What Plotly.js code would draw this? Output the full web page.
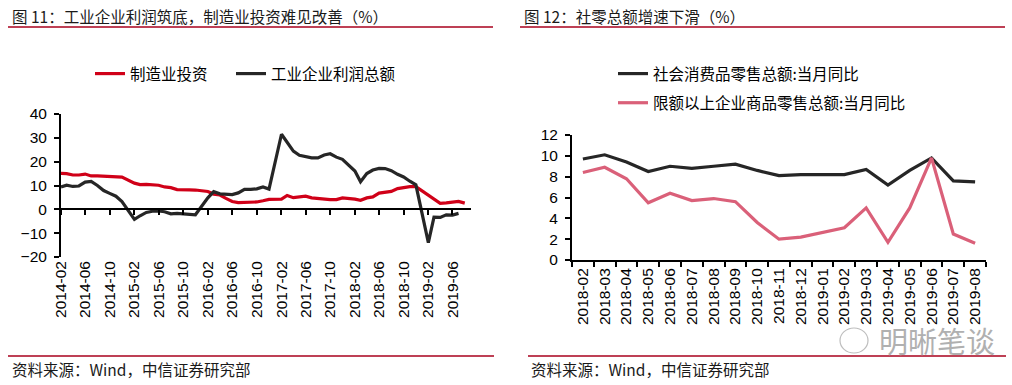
<!DOCTYPE html>
<html>
<head>
<meta charset="utf-8">
<script src="https://cdn.plot.ly/plotly-3.0.1.min.js"></script>
<style>html,body{margin:0;padding:0;background:#fff;}#chart{width:1012px;height:385px;}</style>
</head>
<body>
<div id="chart"></div>
<script>
// ---------------- DATA ----------------
// Left chart (cumulative YoY, %), monthly Feb-Dec (Jan not published)
const leftYears = [2014, 2015, 2016, 2017, 2018, 2019];
const mfgInvest = [
  15.1, 15.0, 14.4, 14.4, 14.8, 14.0, 14.0, 13.8, 13.6, 13.5, 13.5,
  11.0, 10.4, 10.5, 10.3, 10.1, 9.4, 9.1, 8.3, 8.4, 8.2, 8.1,
  7.5, 6.4, 6.0, 4.6, 3.3, 2.8, 2.8, 3.1, 3.1, 3.6, 4.2,
  4.3, 5.8, 4.9, 5.1, 5.5, 4.8, 4.5, 4.2, 4.1, 4.1, 4.8,
  4.3, 3.8, 4.8, 5.2, 6.8, 7.3, 7.5, 8.7, 9.1, 9.5, 9.5,
  5.9, 4.6, 2.5, 2.7, 3.0, 3.3, 2.6
];
const indProfit = [
  9.4, 10.1, 9.6, 9.8, 11.4, 11.7, 10.0, 7.9, 6.7, 5.5, 3.3,
  -4.2, -2.7, -1.3, -0.8, -0.7, -1.0, -1.9, -1.7, -1.9, -1.9, -2.3,
  4.8, 7.4, 6.5, 6.4, 6.2, 6.9, 8.4, 8.4, 8.6, 9.4, 8.5,
  31.5, 28.3, 24.4, 22.7, 22.0, 21.6, 21.6, 22.8, 23.3, 21.9, 21.0,
  16.1, 11.6, 15.0, 16.5, 17.2, 17.1, 16.2, 14.7, 13.6, 11.8, 10.3,
  -14.0, -3.3, -3.4, -2.3, -2.4, -1.7
];
const leftTickLabels = ['2014-02','2014-06','2014-10','2015-02','2015-06','2015-10',
  '2016-02','2016-06','2016-10','2017-02','2017-06','2017-10',
  '2018-02','2018-06','2018-10','2019-02','2019-06'];

// Right chart (monthly YoY, %)
const rightMonths = ['2018-02','2018-03','2018-04','2018-05','2018-06','2018-07','2018-08',
  '2018-09','2018-10','2018-11','2018-12','2019-01','2019-02','2019-03','2019-04',
  '2019-05','2019-06','2019-07','2019-08'];
const retailTotal = [9.7, 10.1, 9.4, 8.5, 9.0, 8.8, 9.0, 9.2, 8.6, 8.1, 8.2, 8.2, 8.2, 8.7, 7.2, 8.6, 9.8, 7.6, 7.5];
const retailAbove = [8.4, 8.9, 7.8, 5.5, 6.4, 5.7, 5.9, 5.6, 3.6, 2.0, 2.2, 2.65, 3.1, 5.0, 1.7, 5.0, 9.8, 2.5, 1.6];

const names = {
  invest: '制造业投资',
  profit: '工业企业利润总额',
  total: '社会消费品零售总额:当月同比',
  above: '限额以上企业商品零售总额:当月同比'
};
const texts = {
  title1: '图 11：工业企业利润筑底，制造业投资难见改善（%）',
  title2: '图 12：社零总额增速下滑（%）',
  source: '资料来源：Wind，中信证券研究部',
  mark: '明晰笔谈'
};

// month strings Feb..Dec for each year (January data is not published)
function monthsFrom(years, count) {
  const out = [];
  for (const y of years) {
    for (let m = 2; m <= 12; m++) {
      out.push(y + '-' + String(m).padStart(2, '0'));
      if (out.length === count) return out;
    }
  }
  return out;
}
const investMonths = monthsFrom(leftYears, mfgInvest.length);
const profitMonths = monthsFrom(leftYears, indProfit.length);

// ---------------- LAYOUT ----------------
const W = 1012, H = 385;
const fx = v => v / W;
const fy = v => 1 - v / H;

const RED = '#d00018', DARK = '#262626', PINK = '#da6079', LINE_RED = '#a8001c';
const tickFont = {family: 'Liberation Sans, Arial, sans-serif', size: 15.5, color: '#000'};
const cjk = 'Noto Sans CJK SC, sans-serif';
const legFont = {family: cjk, size: 15.5, color: '#000'};

const lDom = [fy(257), fy(114)];
const lRange = [-20, 40];
const zeroPos = lDom[0] + (lDom[1] - lDom[0]) * (0 - lRange[0]) / (lRange[1] - lRange[0]);
const lXRange = ['2014-02-01', '2019-09-01'];

const traces = [
  {x: investMonths, y: mfgInvest, name: names.invest, type: 'scatter', mode: 'lines',
   line: {color: RED, width: 3.2}, xaxis: 'x', yaxis: 'y', legend: 'legend'},
  {x: profitMonths, y: indProfit, name: names.profit, type: 'scatter', mode: 'lines',
   line: {color: DARK, width: 3.2}, xaxis: 'x', yaxis: 'y', legend: 'legend3'},
  {x: [], y: [], xaxis: 'x3', yaxis: 'y', showlegend: false, hoverinfo: 'skip', type: 'scatter'},
  {x: rightMonths, y: retailTotal, name: names.total, type: 'scatter', mode: 'lines',
   line: {color: DARK, width: 3.2}, xaxis: 'x2', yaxis: 'y2', legend: 'legend2', legendgroup: 'a'},
  {x: rightMonths, y: retailAbove, name: names.above, type: 'scatter', mode: 'lines',
   line: {color: PINK, width: 3.2}, xaxis: 'x2', yaxis: 'y2', legend: 'legend2', legendgroup: 'b'}
];

const layout = {
  width: W, height: H,
  margin: {l: 0, r: 0, t: 0, b: 0},
  paper_bgcolor: '#fff', plot_bgcolor: 'rgba(0,0,0,0)',
  showlegend: true,
  font: {family: cjk, color: '#000'},
  xaxis: {
    domain: [fx(61), fx(471)], anchor: 'y', type: 'date', range: lXRange,
    showline: false, ticks: '', showgrid: false, zeroline: false,
    tickvals: leftTickLabels, ticktext: leftTickLabels, tickangle: -90,
    tickfont: tickFont, automargin: false
  },
  xaxis3: {
    overlaying: 'x', anchor: 'free', position: zeroPos, type: 'date', range: lXRange,
    domain: [fx(61), fx(471)],
    showline: true, linewidth: 2, linecolor: '#000', ticks: 'outside', ticklen: 5, tickwidth: 2,
    tickcolor: '#000', tickvals: leftTickLabels, showticklabels: false, showgrid: false,
    zeroline: false, automargin: false
  },
  yaxis: {
    domain: lDom, anchor: 'x', range: lRange, dtick: 10, tick0: 0,
    showline: true, linewidth: 2, linecolor: '#000', ticks: 'outside', ticklen: 5, tickwidth: 2,
    tickcolor: '#000', showgrid: false, zeroline: false, tickfont: tickFont,
    ticklabelstandoff: 4, automargin: false
  },
  xaxis2: {
    domain: [fx(572), fx(986)], anchor: 'y2', type: 'category', range: [-0.5, 18.5],
    showline: true, linewidth: 2, linecolor: '#000', ticks: 'outside', ticklen: 5, tickwidth: 2,
    tickcolor: '#000', tickson: 'boundaries', tickangle: -90, showgrid: false,
    tickfont: tickFont, automargin: false
  },
  yaxis2: {
    domain: [fy(260), fy(135)], anchor: 'x2', range: [0, 12], dtick: 2, tick0: 0,
    showline: true, linewidth: 2, linecolor: '#000', ticks: 'outside', ticklen: 5, tickwidth: 2,
    tickcolor: '#000', showgrid: false, zeroline: false, tickfont: tickFont,
    ticklabelstandoff: 4, automargin: false
  },
  legend: {
    orientation: 'h', x: fx(90), y: fy(74), xanchor: 'left', yanchor: 'middle',
    font: legFont, bgcolor: 'rgba(0,0,0,0)'
  },
  legend3: {
    orientation: 'h', x: fx(231), y: fy(74), xanchor: 'left', yanchor: 'middle',
    font: legFont, bgcolor: 'rgba(0,0,0,0)'
  },
  legend2: {
    orientation: 'v', x: fx(613), y: fy(57), xanchor: 'left', yanchor: 'top',
    font: legFont, bgcolor: 'rgba(0,0,0,0)',
    traceorder: 'grouped', tracegroupgap: 6
  },
  annotations: [
    {text: texts.title1, x: fx(10), y: fy(16), xref: 'paper', yref: 'paper', xanchor: 'left', yanchor: 'middle',
     showarrow: false, font: {family: cjk, size: 15.5, color: '#1a1a1a'}},
    {text: texts.title2, x: fx(522), y: fy(16), xref: 'paper', yref: 'paper', xanchor: 'left', yanchor: 'middle',
     showarrow: false, font: {family: cjk, size: 15.5, color: '#1a1a1a'}},
    {text: texts.source, x: fx(10), y: fy(369), xref: 'paper', yref: 'paper', xanchor: 'left', yanchor: 'middle',
     showarrow: false, font: {family: cjk, size: 15.5, color: '#1a1a1a'}},
    {text: texts.source, x: fx(529), y: fy(369), xref: 'paper', yref: 'paper', xanchor: 'left', yanchor: 'middle',
     showarrow: false, font: {family: cjk, size: 15.5, color: '#1a1a1a'}},
    {text: texts.mark, x: fx(877), y: fy(340), xref: 'paper', yref: 'paper', xanchor: 'left', yanchor: 'middle',
     showarrow: false, font: {family: cjk, size: 29, color: '#b0b0b0'}}
  ],
  shapes: [
    {type: 'line', xref: 'paper', yref: 'paper', x0: fx(8), x1: fx(493), y0: fy(27), y1: fy(27), line: {color: LINE_RED, width: 1.5}},
    {type: 'line', xref: 'paper', yref: 'paper', x0: fx(520), x1: fx(1005), y0: fy(27), y1: fy(27), line: {color: LINE_RED, width: 1.5}},
    {type: 'line', xref: 'paper', yref: 'paper', x0: fx(8), x1: fx(494), y0: fy(356), y1: fy(356), line: {color: LINE_RED, width: 1.5}},
    {type: 'line', xref: 'paper', yref: 'paper', x0: fx(528), x1: fx(1006), y0: fy(356), y1: fy(356), line: {color: LINE_RED, width: 1.5}},
    {type: 'circle', xref: 'paper', yref: 'paper', x0: fx(840), x1: fx(868), y0: fy(353), y1: fy(328), line: {color: '#bdbdbd', width: 1.2}}
  ]
};

Plotly.newPlot('chart', traces, layout, {displayModeBar: false, staticPlot: true});
</script>
</body>
</html>
